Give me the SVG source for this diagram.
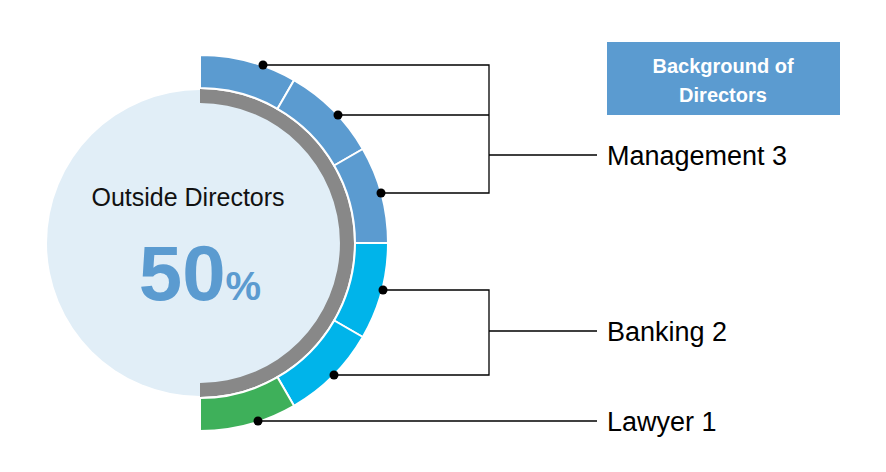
<svg xmlns="http://www.w3.org/2000/svg" width="886" height="472" viewBox="0 0 886 472">
<style>
.seg{stroke:#fff;stroke-width:2}
.ln{stroke:#000;stroke-width:1.3;fill:none}
.lbl{font-family:"Liberation Sans",Arial,sans-serif;font-size:27px;fill:#000}
</style>
<rect width="886" height="472" fill="#fff"/>
<g id="chart">
<circle cx="200" cy="243" r="153" fill="#E1EEF7"/>
<path d="M200,89 A154,154 0 0 1 200,397 L200,383 A140,140 0 0 0 200,103 Z" fill="#888"/>
<path class="seg" fill="#5B9BD0" d="M200,55 A188,188 0 0 1 294,80.2 L277.5,108.8 A155,155 0 0 0 200,88 Z"/>
<path class="seg" fill="#5B9BD0" d="M294,80.2 A188,188 0 0 1 362.8,149 L334.2,165.5 A155,155 0 0 0 277.5,108.8 Z"/>
<path class="seg" fill="#5B9BD0" d="M362.8,149 A188,188 0 0 1 388,243 L355,243 A155,155 0 0 0 334.2,165.5 Z"/>
<path class="seg" fill="#00B4EA" d="M388,243 A188,188 0 0 1 362.8,337 L334.2,320.5 A155,155 0 0 0 355,243 Z"/>
<path class="seg" fill="#00B4EA" d="M362.8,337 A188,188 0 0 1 294,405.8 L277.5,377.2 A155,155 0 0 0 334.2,320.5 Z"/>
<path class="seg" fill="#3EB05A" d="M294,405.8 A188,188 0 0 1 200,431 L200,398 A155,155 0 0 0 277.5,377.2 Z"/>
<text x="188" y="206" text-anchor="middle" font-family="Liberation Sans,Arial,sans-serif" font-size="25" fill="#111">Outside Directors</text>
<text x="200" y="300" text-anchor="middle" font-family="Liberation Sans,Arial,sans-serif" font-weight="bold" fill="#5B9BD0"><tspan font-size="78">50</tspan><tspan font-size="40">%</tspan></text>
</g>
<g id="connectors">
<path class="ln" d="M263,65 H489 V193 H381 M338,115 H489 M489,155 H597"/>
<path class="ln" d="M383,290 H489 V375 H334 M489,331 H597"/>
<path class="ln" d="M258,421 H597"/>
<g fill="#000"><circle cx="263" cy="65" r="4.5"/><circle cx="338" cy="115" r="4.5"/><circle cx="381" cy="193" r="4.5"/><circle cx="383" cy="290" r="4.5"/><circle cx="334" cy="375" r="4.5"/><circle cx="258" cy="421" r="4.5"/></g>
</g>
<g id="legend">
<rect x="607" y="42" width="233" height="73" fill="#5B9BD0"/>
<text x="723" y="73" text-anchor="middle" font-family="Liberation Sans,Arial,sans-serif" font-weight="bold" font-size="20" fill="#fff">Background of</text>
<text x="723" y="102" text-anchor="middle" font-family="Liberation Sans,Arial,sans-serif" font-weight="bold" font-size="20" fill="#fff">Directors</text>
</g>
<g id="labels">
<text class="lbl" x="607" y="165">Management 3</text>
<text class="lbl" x="607" y="341">Banking 2</text>
<text class="lbl" x="607" y="431">Lawyer 1</text>
</g>
</svg>
